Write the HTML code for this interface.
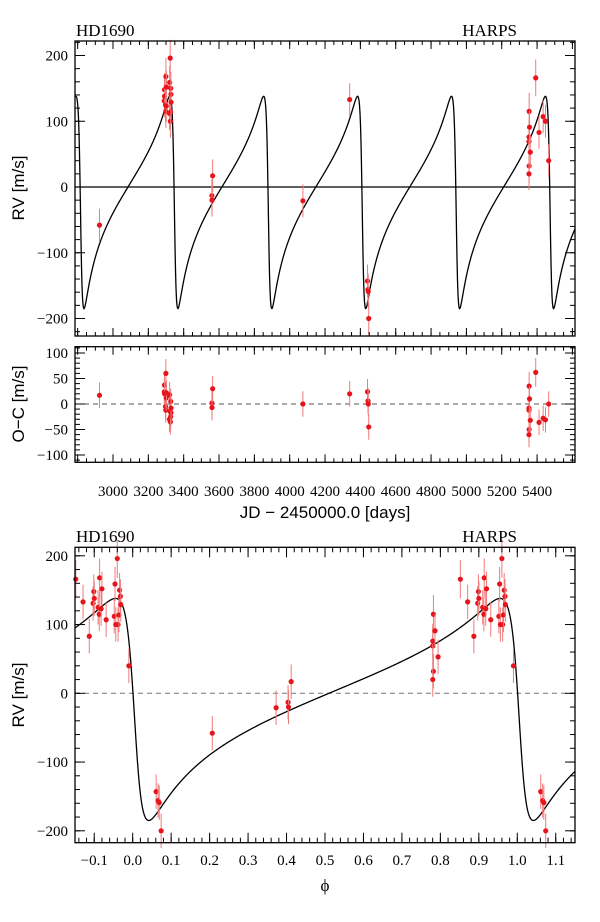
<!DOCTYPE html>
<html><head><meta charset="utf-8"><style>
body{margin:0;background:#fff}
svg{display:block}
.serif{font-family:"Liberation Serif",serif}
.sans{font-family:"Liberation Sans",sans-serif}
</style></head><body>
<svg id="fig" width="600" height="922" viewBox="0 0 600 922" xmlns="http://www.w3.org/2000/svg"></svg>
<script>
// ---- data ----
const times = [2923.5,
 3290.3,3291.3,3291.9,3297.2,3298.8,3299.3,3301.4,3302.5,3319.5,3320.6,3323.7,3324.8,3325.9,3326.9,3328.0,3328.5,
 3559.7,3560.3,3564.0,
 4074.7,4339.4,
 4440.4,4443.1,4444.7,4447.3,
 5354.2,5354.2,5355.1,5357.3,5355.1,5354.2,5361.5,5392.3,5411.0,5434.3,5447.6,5465.7];
const rvValues = [-58,
 131,148,138,125,115,168,123,152,112,159,196,100,114,150,141,129,
 -13,-20,17,
 -21,133,
 -143,-156,-159,-200,
 69,76,115,91,32,20,53,166,83,107,100,40];
const residuals = [17,
 24,37,20,-5,-12,60,12,22,-30,18,-15,-35,-25,5,-17,-8,
 2,-7,30,
 0,20,
 24,6,0,-45,
 -12,-8,35,10,-50,-60,-32,62,-36,-28,-31,0];
const errors = [25,
 25,25,25,25,25,28,25,25,25,25,28,25,25,25,25,25,
 25,25,25,
 25,25,
 25,25,25,25,
 28,25,28,25,25,25,25,28,25,25,25,25];
const topYTicks = [-200,-100,0,100,200];
const resYTicks = [-100,-50,0,50,100];
const xTickLabels = [3000,3200,3400,3600,3800,4000,4200,4400,4600,4800,5000,5200,5400];
const phaseTickLabels = [-0.1,0,0.1,0.2,0.3,0.4,0.5,0.6,0.7,0.8,0.9,1.0,1.1];
// orbit model parameters
const period = 531.5, T0 = 3345, K = 161.5, ecc = 0.72, omega = 98*Math.PI/180, mid = -23.5, phiPeri = 0.006;

const NS = "http://www.w3.org/2000/svg";
const svg = document.getElementById('fig');
function mk(tag, attrs, parent){const e=document.createElementNS(NS,tag);for(const k in attrs)e.setAttribute(k,attrs[k]);(parent||svg).appendChild(e);return e;}

function model(phi){
  let M = 2*Math.PI*(phi - phiPeri);
  M = M - 2*Math.PI*Math.floor(M/(2*Math.PI));
  let E = M;
  for(let i=0;i<40;i++){E = E - (E-ecc*Math.sin(E)-M)/(1-ecc*Math.cos(E));}
  const nu = 2*Math.atan2(Math.sqrt(1+ecc)*Math.sin(E/2), Math.sqrt(1-ecc)*Math.cos(E/2));
  return K*Math.cos(nu+omega) + mid;
}
function phaseOf(t){let p=(t-T0)/period;return p-Math.floor(p);}

// axes
const L=75,R=575;
const xT = d => 113 + (d-3000)*0.1767;
const yTop = v => 187 - v*0.6575;
const yRes = v => 404 - v*0.51;
const xP = p => 75 + (p+0.15)*384.6;
const yP = v => 693.3 - v*0.6875;

function frame(name,top,bottom){
  const r=mk('rect',{x:L,y:top,width:R-L,height:bottom-top,fill:'none',stroke:'#000','stroke-width':1.3});
  
  
}
function xticks(g,fn,from,to,step,len,top,bottom){
  for(let v=from;v<=to+1e-9;v+=step){const x=fn(v);if(x<L+0.5||x>R-0.5)continue;
    mk('line',{x1:x,x2:x,y1:bottom,y2:bottom-len,stroke:'#000','stroke-width':1},g);
    mk('line',{x1:x,x2:x,y1:top,y2:top+len,stroke:'#000','stroke-width':1},g);}
}
function yticks(g,fn,from,to,step,len,top,bottom){
  for(let v=from;v<=to+1e-9;v+=step){const y=fn(v);if(y<top+0.5||y>bottom-0.5)continue;
    mk('line',{x1:L,x2:L+len,y1:y,y2:y,stroke:'#000','stroke-width':1},g);
    mk('line',{x1:R,x2:R-len,y1:y,y2:y,stroke:'#000','stroke-width':1},g);}
}
function text(str,x,y,cls,size,anchor,name,extra){
  const t=mk('text',Object.assign({x:x,y:y,'font-size':size,'text-anchor':anchor||'start',class:cls},extra||{}));
  t.textContent=str;
  
  
  return t;
}
function yLabels(ticks,fn,name){
  ticks.forEach(v=>{const lbl=v<0?'\u2212'+Math.abs(v):String(v);
    text(lbl,68,fn(v)+5,'serif',15,'end',name);});
}
function points(g,xs,ys,errs,fx,fy,name){
  for(let i=0;i<xs.length;i++){
    const x=fx(xs[i]);
    const ln=mk('line',{x1:x,x2:x,y1:fy(ys[i]-errs[i]),y2:fy(ys[i]+errs[i]),stroke:'#f07a7a','stroke-width':1},g);
    
    
    const c=mk('circle',{cx:x,cy:fy(ys[i]),r:2.6,fill:'#e8141c'},g);
    
    
  }
}

// ===== Top panel =====
const T1=41,B1=336;
const gTop=mk('g',{});


mk('line',{x1:L,x2:R,y1:yTop(0),y2:yTop(0),stroke:'#000','stroke-width':1.2},gTop);
{let d='';for(let x=L;x<=R;x+=0.5){const t=3000+(x-113)/0.1767;d+=(d?'L':'M')+x.toFixed(2)+','+yTop(model(phaseOf(t))).toFixed(2);}
 const p=mk('path',{d:d,fill:'none',stroke:'#000','stroke-width':1.3},gTop);
 
 }
points(gTop,times,rvValues,errors,xT,yTop,'rv');
xticks(gTop,xT,2800,5600,50,4,T1,B1);xticks(gTop,xT,2800,5600,200,8,T1,B1);
yticks(gTop,yTop,-220,220,20,5,T1,B1);yticks(gTop,yTop,-200,200,100,10,T1,B1);
frame('rv-time-frame',T1,B1);
yLabels(topYTicks,yTop,'rv-y-tick-label');
text('HD1690',76,36,'serif',17,'start','star-name-label');
text('HARPS',517,36,'serif',17,'end','instrument-label');
text('RV [m/s]',24,188,'sans',17,'middle','rv-y-axis-title',{transform:'rotate(-90 24 188)'});

// ===== Residual panel =====
const T2=346.7,B2=462.3;
const gRes=mk('g',{});


mk('line',{x1:L,x2:R,y1:yRes(0),y2:yRes(0),stroke:'#555','stroke-width':1,'stroke-dasharray':'5,4'},gRes);
points(gRes,times,residuals,errors,xT,yRes,'residual');
xticks(gRes,xT,2800,5600,50,4,T2,B2);xticks(gRes,xT,2800,5600,200,8,T2,B2);
yticks(gRes,yRes,-110,110,10,5,T2,B2);yticks(gRes,yRes,-100,100,50,10,T2,B2);
frame('residual-frame',T2,B2);
yLabels(resYTicks,yRes,'residual-y-tick-label');
xTickLabels.forEach(v=>text(String(v),xT(v),496,'serif',15,'middle','time-x-tick-label'));
text('O\u2212C [m/s]',24,404,'sans',17,'middle','residual-y-axis-title',{transform:'rotate(-90 24 404)'});
text('JD \u2212 2450000.0 [days]',325,518,'sans',17,'middle','time-x-axis-title');

// ===== Phase panel =====
const T3=547.3,B3=842.7;
const gPh=mk('g',{});


mk('line',{x1:L,x2:R,y1:yP(0),y2:yP(0),stroke:'#777','stroke-width':1,'stroke-dasharray':'5,4'},gPh);
{let d='';for(let x=L;x<=R;x+=0.5){const p=(x-75)/384.6-0.15;d+=(d?'L':'M')+x.toFixed(2)+','+yP(model(p)).toFixed(2);}
 const p=mk('path',{d:d,fill:'none',stroke:'#000','stroke-width':1.3},gPh);
 
 }
{const px=[],py=[],pe=[];
 for(let i=0;i<times.length;i++){const ph=phaseOf(times[i]);
   [ph-1,ph,ph+1].forEach(q=>{if(q>=-0.15&&q<=1.15){px.push(q);py.push(rvValues[i]);pe.push(errors[i]);}});}
 points(gPh,px,py,pe,xP,yP,'phase');}
xticks(gPh,xP,-0.14,1.14,0.02,5,T3,B3);xticks(gPh,xP,-0.1,1.1,0.1,10,T3,B3);
yticks(gPh,yP,-200,200,20,5,T3,B3);yticks(gPh,yP,-200,200,100,10,T3,B3);
frame('phase-frame',T3,B3);
yLabels(topYTicks,yP,'phase-y-tick-label');
phaseTickLabels.forEach(v=>{const s=(v<0?'\u2212':'')+Math.abs(v).toFixed(1);text(s,xP(v),865,'serif',15,'middle','phase-x-tick-label');});
text('HD1690',76,542,'serif',17,'start','phase-star-name-label');
text('HARPS',517,542,'serif',17,'end','phase-instrument-label');
text('RV [m/s]',24,695,'sans',17,'middle','phase-y-axis-title',{transform:'rotate(-90 24 695)'});
text('\u03d5',325,891,'serif',17,'middle','phase-x-axis-title');
</script>
</body></html>
